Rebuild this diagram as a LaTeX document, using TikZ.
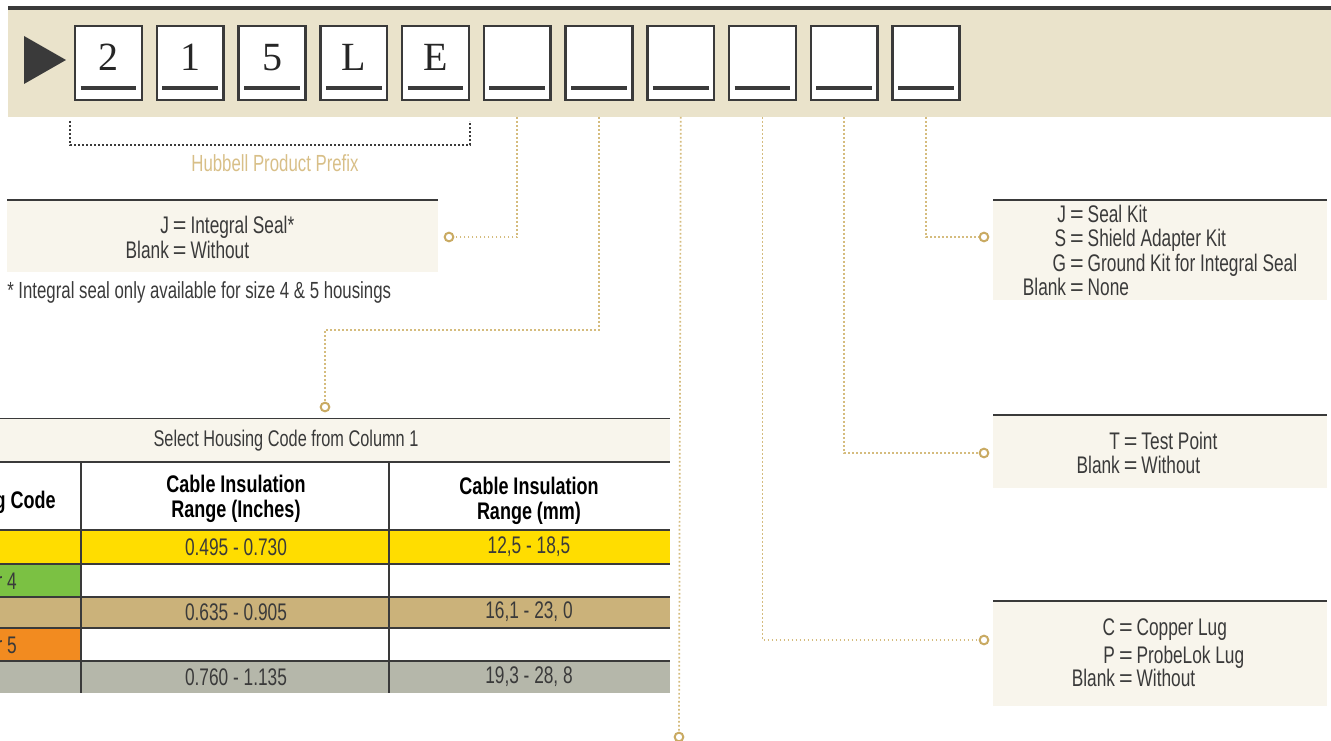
\documentclass[tikz,border=0pt]{standalone}
\usepackage{fontspec}
\setmainfont{Liberation Sans}[FakeStretch=0.72]
\newfontfamily\hdfont{Liberation Sans}[FakeStretch=0.75]
\newfontfamily\codefont{Liberation Serif}
\usetikzlibrary{positioning, calc}

\definecolor{ink}{HTML}{3A3A3A}
\definecolor{band}{HTML}{EAE3CB}
\definecolor{cream}{HTML}{F8F5EC}
\definecolor{leadc}{HTML}{D5BC7E}
\definecolor{knobc}{HTML}{C9AA62}
\definecolor{prefixc}{HTML}{D8BF88}
\definecolor{yel}{HTML}{FFDD00}
\definecolor{grn}{HTML}{7BC143}
\definecolor{tanr}{HTML}{CBB27A}
\definecolor{org}{HTML}{F28B20}
\definecolor{gry}{HTML}{B5B7AA}

\newcommand\eqs{\,\scalebox{1.35}[1]{=}\,}

\begin{document}
\begin{tikzpicture}[
    x=0.75pt, y=-0.75pt,
    txt/.style={font=\fontsize{18}{17.5}\selectfont, text=ink, inner sep=0pt},
    hd/.style={txt, font=\hdfont\fontsize{18}{18.5}\selectfont\bfseries, text=black, align=center},
    codebox/.style={draw=ink, line width=1.9pt, fill=white, minimum width=50pt, minimum height=55.5pt, inner sep=0pt},
    code/.style={font=\codefont\fontsize{30}{30}\selectfont, text=black!85, inner sep=0pt},
    bar/.style={ink, line width=3.4pt},
    rule/.style={ink, line width=1.3pt},
    lead/.style={leadc, line width=1.3pt, dash pattern=on 1.3pt off 1.7pt},
    knob/.style={circle, draw=knobc, line width=1.5pt, fill=white, minimum size=6.5pt, inner sep=0pt}
    ]

    % Determines the boundries
    \path [use as bounding box] (0,0) rectangle (1331,741);

    \def\pitch{81.75}
    \def\tabR{670}

    % Top band with the code boxes
    \fill[ink] (8,6) rectangle (1331,10);
    \fill[band] (8,10) rectangle (1331,117);
    \fill[ink] (24,36) -- (66,60) -- (24,84) -- cycle;

    \foreach \i in {1,...,11}{
        \node[codebox] (c\i) at ({26.75+\pitch*\i},63) {};
        \draw[bar] ([xshift=5pt,yshift=10pt]c\i.south west) -- ([xshift=-5pt,yshift=10pt]c\i.south east);
    }
    \foreach \ch [count=\i] in {2,1,5,L,E}{
        \node[code] (l\i) at ([yshift=4pt]c\i.center) {\ch};
    }

    % Prefix bracket
    \draw[ink, line width=1.3pt, dash pattern=on 1.3pt off 1.7pt] (70,121) |- (470,145) -- (470,121);
    \node[txt, text=prefixc, font=\fontsize{17.5}{18}\selectfont] (prefix) at (275,163) {Hubbell Product Prefix};

    % Option boxes
    \fill[cream] (7,201) rectangle (438,272);
    \draw[rule] (7,200) -- (438,200);
    \node[txt] (seal) at (210,241) {\begin{tabular}{@{}r@{\eqs}l@{}}J & Integral Seal*\\ Blank & Without\end{tabular}};
    \node[txt, anchor=west, font=\fontsize{17.5}{18}\selectfont] (note) at (7,292) {* Integral seal only available for size 4 \& 5 housings};

    \fill[cream] (993,201) rectangle (1327,300);
    \draw[rule] (993,200) -- (1327,200);
    \node[txt] (kit) at (1160,254) {\begin{tabular}{@{}r@{\eqs}l@{}}J & Seal Kit\\ S & Shield Adapter Kit\\ G & Ground Kit for Integral Seal\\ Blank & None\end{tabular}};

    \fill[cream] (993,416) rectangle (1327,488);
    \draw[rule] (993,415) -- (1327,415);
    \node[txt] (test) at (1147,456) {\begin{tabular}{@{}r@{\eqs}l@{}}T & Test Point\\ Blank & Without\end{tabular}};

    \fill[cream] (993,602) rectangle (1327,706);
    \draw[rule] (993,601) -- (1327,601);
    \node[txt] (lug) at (1158,656) {\begin{tabular}{@{}r@{\eqs}l@{}}C & Copper Lug\\[2.5pt] P & ProbeLok Lug\\[-1pt] Blank & Without\end{tabular}};

    % Housing table
    \begin{scope}
        \clip (0,410) rectangle (700,700);
        \fill[cream] (-10,419) rectangle (\tabR,462);
        \draw[rule] (-10,418.5) -- (\tabR,418.5);
        \node[txt, font=\fontsize{17}{18}\selectfont] (housing) at (286,441) {Select Housing Code from Column 1};

        \foreach \t/\b/\fa/\fb in {530/564/yel/yel, 564/597/grn/white, 597/628/tanr/tanr, 628/661/org/white, 661/693/gry/gry}{
            \fill[\fa] (-10,\t) rectangle (81,\b);
            \fill[\fb] (81,\t) rectangle (\tabR,\b);
        }
        \draw[ink, line width=1.8pt] (-10,462) -- (\tabR,462) (-10,530) -- (\tabR,530);
        \foreach \y in {564,597,628,661}{
            \draw[rule] (-10,\y) -- (\tabR,\y);
        }
        \draw[rule] (81,462) -- (81,693) (389,462) -- (389,693);

        \node[hd, anchor=east] (hcode) at (56,502) {Housing Code};
        \node[hd] (hin) at (236,499) {Cable Insulation\\Range (Inches)};
        \node[hd] (hmm) at (529,501) {Cable Insulation\\Range (mm)};

        \foreach \y/\a/\b in {547/{0.495 - 0.730}/{12,5 - 18,5}, 612/{0.635 - 0.905}/{16,1 - 23, 0}, 677/{0.760 - 1.135}/{19,3 - 28, 8}}{
            \node[txt] at (236,\y) {\a};
            \node[txt] at (529,\y) {\b};
        }
        \node[txt, anchor=east] (s4) at (17,581) {r 4};
        \node[txt, anchor=east] (s5) at (17,645) {r 5};
    \end{scope}

    % Leaders from the code boxes
    \coordinate (bb) at (0,117);
    \coordinate (turn7) at (325,330);
    \node[knob] (k6) at (449,237) {};
    \node[knob] (k7) at (325,407) {};
    \node[knob] (k8) at (679,737) {};
    \node[knob] (k9) at (984,640) {};
    \node[knob] (k10) at (984,453) {};
    \node[knob] (k11) at (984,237) {};

    \draw[lead] (c6 |- bb) |- (k6);
    \draw[lead] (c7 |- bb) |- (turn7) -- (k7);
    \draw[lead] (c8 |- bb) -- (k8);
    \foreach \i in {9,10,11}{
        \draw[lead] (c\i |- bb) |- (k\i);
    }

\end{tikzpicture}
\end{document}
